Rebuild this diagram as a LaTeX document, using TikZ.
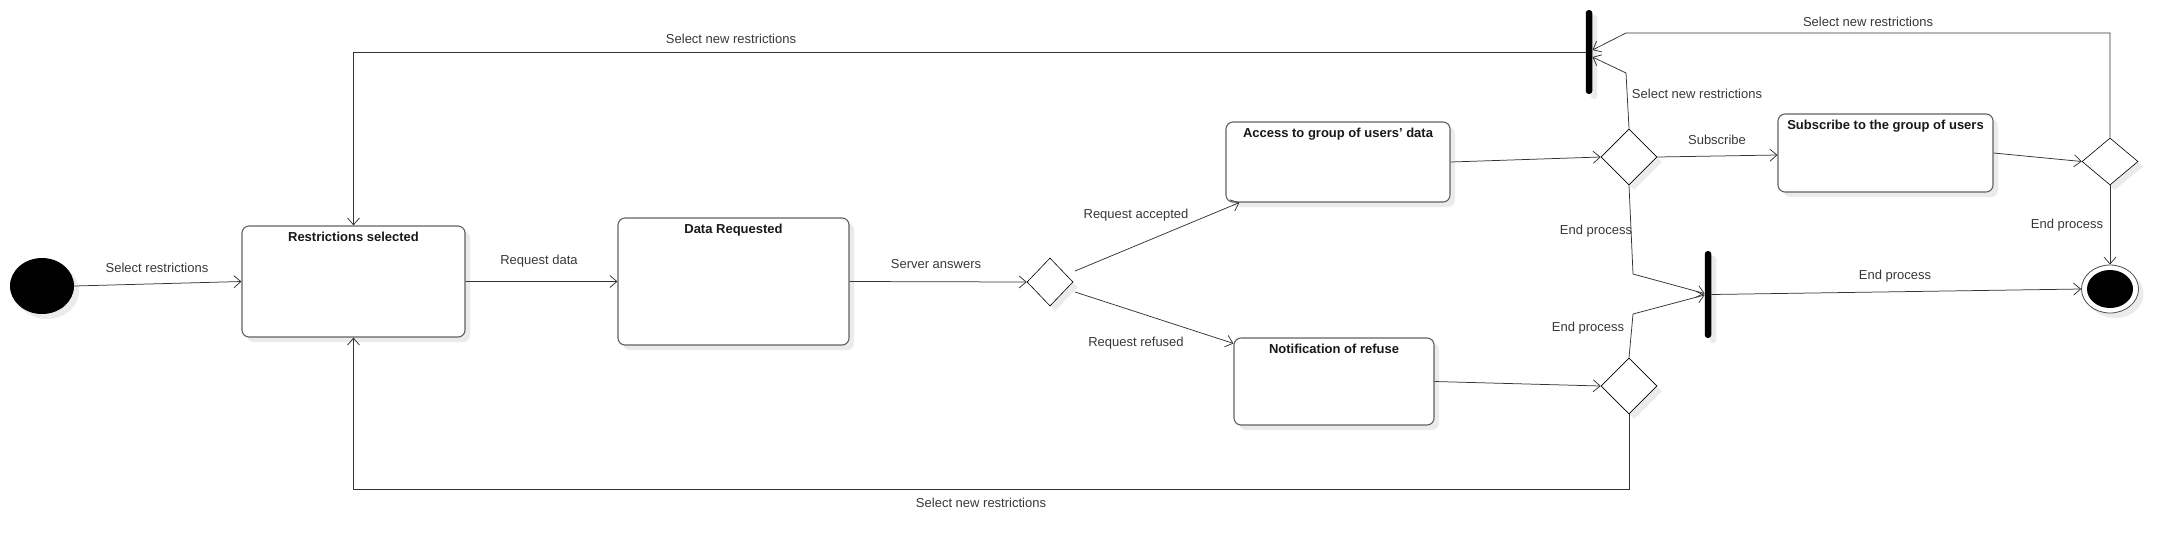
\documentclass[tikz,border=0pt]{standalone}
\usepackage{fontspec}
\setmainfont{Liberation Sans}
\usetikzlibrary{arrows.meta,shapes.geometric,shadows}
\begin{document}
\begin{tikzpicture}[x=1pt,y=-1pt,
 every node/.style={font=\fontsize{13}{15}\selectfont, text=black!78},
 sh/.style={drop shadow={shadow xshift=5pt,shadow yshift=-5pt,fill=black!8,opacity=1}},
 state/.style={draw=black!62,line width=1.1pt,rounded corners=7pt,fill=white,sh,inner sep=0pt},
 dec/.style={diamond,draw=black,line width=0.6pt,fill=white,inner sep=0pt,minimum width=56pt,minimum height=56pt,sh},
 bar/.style={rectangle,fill=black,rounded corners=3pt,minimum width=6.5pt,inner sep=0pt,sh},
 flow/.style={draw=black!80,line width=0.75pt,-{Straight Barb[length=7pt,width=12pt]}},
 ttl/.style={font=\fontsize{13}{15}\selectfont\bfseries,text=black!90,anchor=north,inner sep=6pt}
]
\useasboundingbox (0,0) rectangle (2178,550);

% start / end
\node[ellipse,fill=black,minimum width=64pt,minimum height=56pt,inner sep=0pt,sh] (start) at (42,286) {};
\node[ellipse,draw=black!70,line width=0.8pt,fill=white,minimum width=57pt,minimum height=48pt,inner sep=0pt,sh] (fin) at (2110,289) {};
\node[ellipse,fill=black,minimum width=46pt,minimum height=38pt,inner sep=0pt] (fin2) at (fin) {};

% states
\node[state,minimum width=223pt,minimum height=111pt,label={[ttl]north:Restrictions selected}] (rs) at (353.5,281.5) {};
\node[state,minimum width=231pt,minimum height=127pt,label={[ttl]north:Data Requested}] (dr) at (733.5,281.5) {};
\node[state,minimum width=224pt,minimum height=80pt,label={[ttl]north:Access to group of users' data}] (acc) at (1338,162) {};
\node[state,minimum width=200pt,minimum height=87pt,label={[ttl]north:Notification of refuse}] (nof) at (1334,381.5) {};
\node[state,minimum width=215pt,minimum height=78pt,label={[ttl]north:Subscribe to the group of users}] (sub) at (1885.5,153) {};

% decisions
\node[dec,minimum width=46pt,minimum height=48pt] (d1) at (1050,282) {};
\node[dec] (d2) at (1629,157) {};
\node[dec] (d3) at (1629,386) {};
\node[dec,minimum height=47pt] (d4) at (2110,161.5) {};

% bars
\node[bar,minimum height=84pt] (b1) at (1589,52) {};
\node[bar,minimum height=87pt] (b2) at (1708,294.5) {};

% helper coordinates
\coordinate (c1) at (1626,33);
\coordinate (c2) at (1626,73);
\coordinate (c3) at (1633,274);
\coordinate (c4) at (1633,314);
\coordinate (c5) at (1629,489);
\coordinate (e1) at (1075,271);
\coordinate (e2) at (1075,292);

% flows
\draw[flow] (start.east) -- (rs.west);
\draw[flow] (rs.east) -- (dr.west);
\draw[flow] (dr.east) -- (d1.west);
\draw[flow] (e1) -- ([xshift=14pt]acc.south west);
\draw[flow] (e2) -- ([yshift=-6pt]nof.north west);
\draw[flow] (acc.east) -- (d2.west);
\draw[flow] (nof.east) -- (d3.west);
\draw[flow] (d2.east) -- ([yshift=-2pt]sub.west);
\draw[flow] (sub.east) -- (d4.west);
\draw[flow] (d4.south) -- (fin.north);
\draw[flow] (b2.east) -- (fin.west);
\draw[flow] (d4.north) |- (c1) -- ([yshift=2pt]b1.east);
\draw[flow] (d2.north) -- (c2) -- ([yshift=-5pt]b1.east);
\draw[flow] (b1.west) -| (rs.north);
\draw[flow] (d2.south) -- (c3) -- ([yshift=1pt]b2.west);
\draw[flow] (d3.north) -- (c4) -- ([yshift=-0.5pt]b2.west);
\draw[flow] (d3.south) -- (c5) -| (rs.south);

% labels
\node (l1) at (157,268) {Select restrictions};
\node (l2) at (539,261) {Request data};
\node (l3) at (936,264) {Server answers};
\node (l4) at (1136,215) {Request accepted};
\node (l5) at (1136,343) {Request refused};
\node (l6) at (731,39) {Select new restrictions};
\node (l7) at (1868,22) {Select new restrictions};
\node (l8) at (1697,94) {Select new restrictions};
\node (l9) at (1717,140) {Subscribe};
\node (l10) at (1596,231) {End process};
\node (l11) at (1588,328) {End process};
\node (l12) at (1895,276) {End process};
\node (l13) at (2067,225) {End process};
\node (l14) at (981,503) {Select new restrictions};
\end{tikzpicture}
\end{document}
